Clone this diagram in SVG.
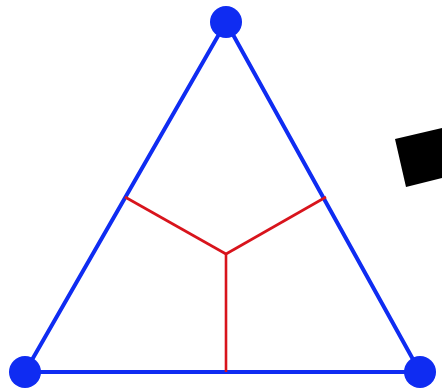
<svg xmlns="http://www.w3.org/2000/svg" width="442" height="391" viewBox="0 0 442 391">
<style>
.edge{stroke:#0f2cf2;stroke-width:4;fill:none;stroke-linecap:round}
.red{stroke:#d8141c;stroke-width:2.6;fill:none}
.v{fill:#0f2cf2}
</style>
<rect width="442" height="391" fill="#fff"/>
<g id="connectors">
<polygon class="edge" points="226,22 25,372 420,372" stroke-linejoin="round"/>
<line class="red" x1="226" y1="254" x2="125" y2="197"/>
<line class="red" x1="226" y1="254" x2="326" y2="197"/>
<line class="red" x1="226" y1="254" x2="226" y2="372"/>
</g>
<g id="top"><circle class="v" cx="226" cy="22" r="16"/></g>
<g id="left"><circle class="v" cx="25" cy="372" r="16"/></g>
<g id="right"><circle class="v" cx="420" cy="372" r="16"/></g>
<g id="block"><polygon points="395,139 442,128 442,178 406,187" fill="#000"/></g>
</svg>
